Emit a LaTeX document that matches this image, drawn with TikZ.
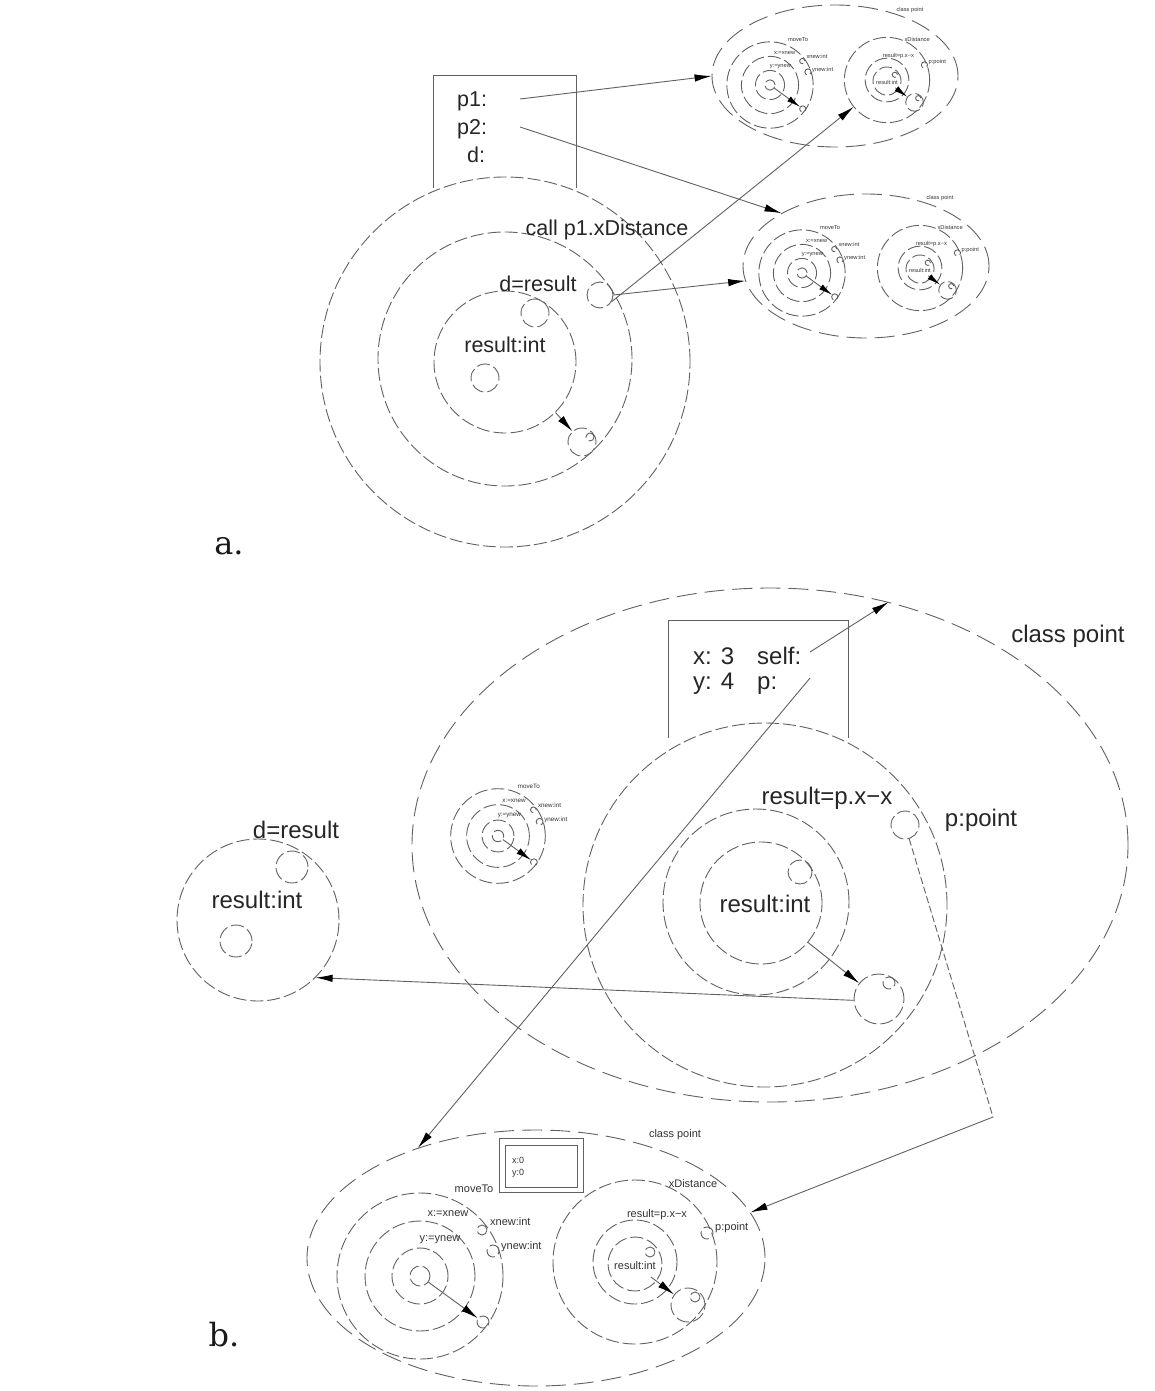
\documentclass[tikz,border=0pt]{standalone}
\usepackage{fontspec}
\setmainfont{Liberation Sans}
\newfontfamily\labfont{DejaVu Serif}
\usetikzlibrary{arrows.meta,shapes.geometric}
\tikzset{
  ln/.style={draw=black!62, line width=0.9pt},
  dsh/.style={ln, dash pattern=on 13pt off 4pt},
  ldsh/.style={ln, dash pattern=on 20pt off 8pt},
  ob/.style={circle, dsh, inner sep=0pt, minimum size=#1},
  ell/.style={ellipse, ldsh, inner sep=0pt},
  conn/.style={ln, -{Latex[length=17pt,width=7.5pt,scale=#1,color=black]}},
  conn/.default=1,
  ta/.style={font=\fontsize{21.5}{24}\selectfont, text=black!85, inner sep=0pt},
  tb/.style={font=\fontsize{24}{26}\selectfont, text=black!85, inner sep=0pt},
  tiny/.style={font=\fontsize{11}{12}\selectfont, text=black!80, inner sep=0pt},
  biglab/.style={font=\labfont\fontsize{32}{34}\selectfont, text=black!90, inner sep=0pt},
  pics/movesys/.style={code={
    \node[ob=166pt] (-out) at (0,0) {};
    \node[ob=110pt] (-m1) at (0,0) {};
    \node[ob=56pt] (-m2) at (0,0) {};
    \node[ob=20pt] (-c) at (0,0) {};
    \node[ob=12pt] (-t) at (63,46) {};
    \node[ob=10pt] (-a1) at (62,-46) {};
    \node[ob=12pt] (-a2) at (73,-25) {};
    \node[tiny] (-l1) at (54,-87) {moveTo};
    \node[tiny] (-l2) at (28,-62) {x:=xnew};
    \node[tiny] (-l3) at (20,-36) {y:=ynew};
    \node[tiny, anchor=west] (-l4) at (70,-54) {xnew:int};
    \node[tiny, anchor=west] (-l5) at (81,-29) {ynew:int};
    \draw[conn=#1] (-c) -- (-t);
  }},
  pics/xdsys/.style={code={
    \node[ob=164pt] (-out) at (0,0) {};
    \node[ob=84pt] (-m1) at (0,0) {};
    \node[ob=54pt] (-m2) at (0,2) {};
    \node[ob=10pt] (-a1) at (15,-10) {};
    \node[ob=12pt] (-a2) at (72,-29) {};
    \node[ob=34pt] (-t) at (53,43) {};
    \node[ob=10pt] (-a3) at (60,35) {};
    \coordinate (-s) at (16,15);
    \node[tiny] (-l1) at (58,-78) {xDistance};
    \node[tiny] (-l2) at (22,-47) {result=p.x−x};
    \node[tiny, anchor=west] (-l3) at (80,-34) {p:point};
    \node[tiny] (-l4) at (0,4) {result:int};
    \draw[conn=#1] (-s) -- (-t);
  }},
}
\begin{document}
\begin{tikzpicture}[x=1pt,y=-1pt]
\path[fill=white] (0,0) rectangle (1155,1391);
\useasboundingbox (0,0) rectangle (1155,1391);

% ================= part a =================
\node[ell, minimum width=246pt, minimum height=142pt] (topE) at (835,76) {};
\node[ell, minimum width=246pt, minimum height=144pt] (botE) at (866,266) {};
\pic[scale=0.52, transform shape] (ta1) at (770,85) {movesys=0.8};
\pic[scale=0.52, transform shape] (ta2) at (887,80) {xdsys=0.8};
\pic[scale=0.52, transform shape] (tb1) at (802,273) {movesys=0.8};
\pic[scale=0.52, transform shape] (tb2) at (920,268) {xdsys=0.8};
\node[tiny, scale=0.52] (tlab1) at (910,10) {class point};
\node[tiny, scale=0.52] (tlab2) at (940,198) {class point};

\draw[ln] (433,188) -- (433,75) -- (576,75) -- (576,188);
\node[ta, anchor=base west] (p1t) at (457,107) {p1:};
\node[ta, anchor=base west] (p2t) at (457,135) {p2:};
\node[ta, anchor=base west] (dt) at (467,163) {d:};
\coordinate (p1) at (520,99);
\coordinate (p2) at (520,127);

\node[ob=370pt] (callc) at (505,362) {};
\node[ob=254pt] (midc) at (505,359) {};
\node[ob=142pt] (inc) at (505,362) {};
\node[ta] (calllab) at (607,230) {call p1.xDistance};
\node[ta] (drlab) at (538,284) {d=result};
\node[ob=26pt] (dr) at (600,295) {};
\node[ob=28pt] (sa1) at (535,313) {};
\node[ta] (rilab) at (505,345) {result:int};
\node[ob=28pt] (sa2) at (485,378) {};
\node[ob=28pt] (ra) at (582,442) {};
\node[ob=8pt] (ra2) at (590,437) {};
\draw[conn] (inc.-45) -- (ra);

\draw[conn] (p1) -- (topE.west);
\draw[conn] (p2) -- (botE.148);
\draw[conn] (dr.east) -- (botE.187);
\draw[conn] (dr.-30) -- (ta2-out);

\node[biglab] (alab) at (229,546) {a.};

% ================= part b =================
\node[ell, minimum width=716pt, minimum height=514pt] (bigE) at (770,845) {};
\node[tb] (cplab) at (1068,636) {class point};

\draw[ln] (668,738) -- (668,620) -- (848,620) -- (848,738);
\node[tb, anchor=base west] (xt) at (693,664) {x: 3};
\node[tb, anchor=base west] (st) at (757,664) {self:};
\node[tb, anchor=base west] (yt) at (693,689) {y: 4};
\node[tb, anchor=base west] (pt) at (757,689) {p:};
\coordinate (selfc) at (810,652);
\coordinate (pc) at (810,678);

\node[ob=364pt] (xdc) at (765,905) {};
\node[ob=186pt] (midb) at (756,902) {};
\node[ob=122pt] (inb) at (761,903) {};
\node[tb] (rib) at (765,904) {result:int};
\node[ob=24pt] (sb1) at (800,872) {};
\node[tb] (rpx) at (827,798) {result=p.x−x};
\node[ob=28pt] (pp) at (905,825) {};
\node[tb] (pplab) at (981,820) {p:point};
\node[ob=50pt] (lowc) at (879,999) {};
\node[ob=12pt] (lowc2) at (889,983) {};
\draw[conn] (inb.-40) -- (lowc);

\pic[scale=0.57, transform shape] (ms) at (498,836) {movesys=0.9};

\node[ob=162pt] (leftC) at (258,920) {};
\node[tb] (ldr) at (296,830) {d=result};
\node[ob=32pt] (lc1) at (292,867) {};
\node[tb] (lri) at (257,900) {result:int};
\node[ob=32pt] (lc2) at (236,941) {};
\draw[conn] (lowc.183) -- (leftC.-45);

\node[ell, minimum width=458pt, minimum height=256pt] (botB) at (536,1258) {};
\draw[ln] (499,1138) rectangle (583,1192);
\draw[ln] (505,1145) rectangle (577,1187);
\node[tiny, font=\fontsize{9}{10}\selectfont, anchor=west] (bx) at (512,1160) {x:0};
\node[tiny, font=\fontsize{9}{10}\selectfont, anchor=west] (by) at (512,1173) {y:0};
\node[tiny] (bcp) at (675,1135) {class point};
\pic (bl) at (420,1276) {movesys=1};
\pic (br) at (635,1262) {xdsys=1};

\draw[conn] (selfc) -- (bigE.64);
\draw[conn] (pc) -- (botB.137);
\coordinate (bend) at (993,1117);
\draw[ln, dash pattern=on 7pt off 3pt] (pp) -- (bend);
\draw[conn] (bend) -- (botB.12);

\node[biglab] (blab) at (224,1335) {b.};
\end{tikzpicture}
\end{document}
